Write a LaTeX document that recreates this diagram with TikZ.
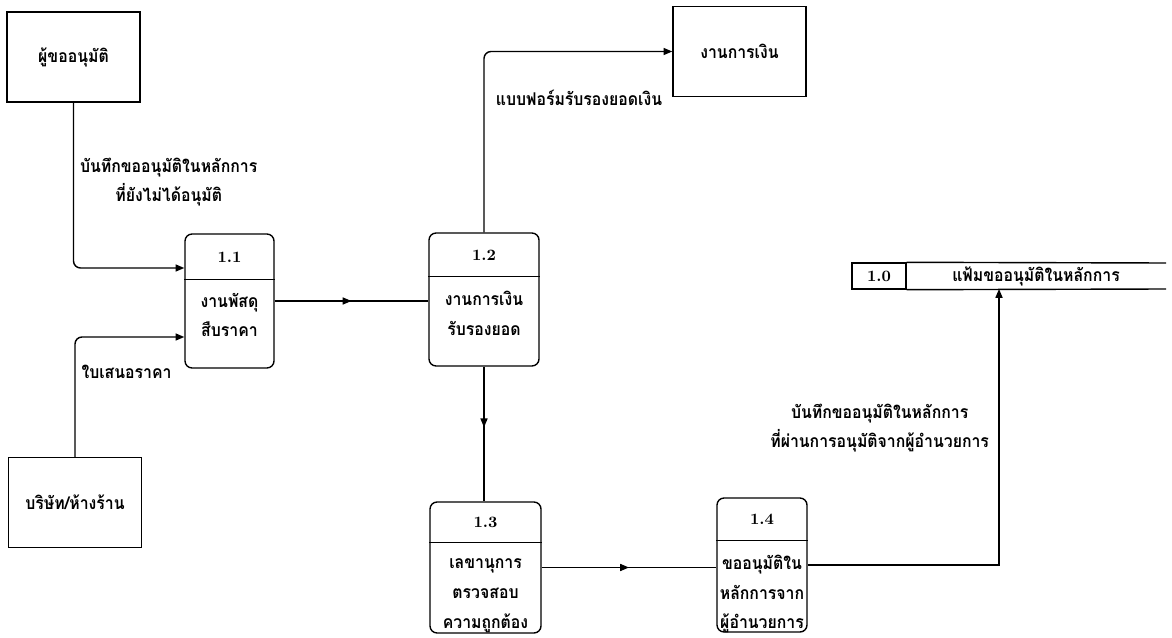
\documentclass[tikz,border=0pt]{standalone}
\usepackage{fontspec}
\newfontfamily\thaifont[Script=Thai, FakeStretch=0.9]{Loma}
\usetikzlibrary{arrows.meta,decorations.markings}
\tikzset{
  ent/.style={draw, thick, minimum width=2.66cm, minimum height=1.8cm, font=\thaifont\bfseries},
  proc/.style={draw, thick, rounded corners=4pt, minimum height=2.66cm},
  num/.style={font=\bfseries\small},
  ptext/.style={font=\thaifont\bfseries\fontsize{10}{17}\selectfont, align=center, inner sep=0pt},
  lbl/.style={font=\thaifont\bfseries\fontsize{10}{16}\selectfont, align=center},
  flow/.style={thick, -{Triangle[length=5pt,width=4pt]}},
  midflow/.style={thick, postaction={decorate}, decoration={markings,
    mark=at position #1 with {\arrow{Triangle[length=5pt,width=4pt]}}}},
  midflow/.default=0.5
}
\begin{document}
\begin{tikzpicture}[x=0.02cm, y=-0.02cm]
\useasboundingbox (0,0) rectangle (1172,638);
\node[ent] (E_1) at (73.5,57) {ผู้ขออนุมัติ};
\node[ent] (E_2) at (75,502.5) {บริษัท/ห้างร้าน};
\node[ent] (E_3) at (739.5,51.5) {งานการเงิน};
\node[proc, minimum width=1.78cm, minimum height=2.68cm] (P_1_1) at (229.5,301) {};
\draw[thick] ([yshift=-0.92cm]P_1_1.north west) -- ([yshift=-0.92cm]P_1_1.north east);
\node[num] (N_1_1) at (229.5,257) {1.1};
\node[ptext] (T_1_1) at (229.5,315) {งานพัสดุ\\สืบราคา};
\node[proc, minimum width=2.2cm] (P_1_2) at (484,299.5) {};
\draw[thick] ([yshift=-0.88cm]P_1_2.north west) -- ([yshift=-0.88cm]P_1_2.north east);
\node[num] (N_1_2) at (484,255) {1.2};
\node[ptext] (T_1_2) at (484,313) {งานการเงิน\\รับรองยอด};
\node[proc, minimum width=2.22cm, minimum height=2.62cm] (P_1_3) at (485.5,567.5) {};
\draw[thick] ([yshift=-0.82cm]P_1_3.north west) -- ([yshift=-0.82cm]P_1_3.north east);
\node[num] (N_1_3) at (485.5,522) {1.3};
\node[ptext] (T_1_3) at (485.5,596) {เลขานุการ\\ตรวจสอบ\\ความถูกต้อง};
\node[proc, minimum width=1.8cm, minimum height=2.68cm] (P_1_4) at (762,565) {};
\draw[thick] ([yshift=-0.86cm]P_1_4.north west) -- ([yshift=-0.86cm]P_1_4.north east);
\node[num] (N_1_4) at (762,519) {1.4};
\node[ptext] (T_1_4) at (762,594) {ขออนุมัติใน\\หลักการจาก\\ผู้อำนวยการ};
\node[draw, thick, num, minimum width=1.08cm, minimum height=0.52cm] (D_1_0) at (879,276) {1.0};
\node[lbl] (D_txt) at (1036,276) {แฟ้มขออนุมัติในหลักการ};
\draw[thick] (D_1_0.north east) -- (1166,263);
\draw[thick] (D_1_0.south east) -- (1166,289);
\coordinate (D_in) at (999,289);
\draw[flow, rounded corners=4pt] (E_1.south) |- ([yshift=0.66cm]P_1_1.west) node[pos=0.24, right, lbl] {บันทึกขออนุมัติในหลักการ\\ที่ยังไม่ได้อนุมัติ};
\draw[flow, rounded corners=4pt] (E_2.north) |- ([yshift=-0.72cm]P_1_1.west) node[pos=0.355, right, lbl] {ใบเสนอราคา};
\draw[midflow] (P_1_1.east) -- (P_1_1.east -| P_1_2.west);
\draw[flow, rounded corners=4pt] (P_1_2.north) |- (E_3.west) node[pos=0.373, right, lbl, xshift=3pt] {แบบฟอร์มรับรองยอดเงิน};
\draw[midflow=0.45] (P_1_2.south) -- (P_1_2.south |- P_1_3.north);
\draw[midflow] (P_1_3.east) -- (P_1_3.east -| P_1_4.west);
\draw[flow] (P_1_4.east) -| (D_in) node[pos=0.748, left, lbl, xshift=-2pt] {บันทึกขออนุมัติในหลักการ\\ที่ผ่านการอนุมัติจากผู้อำนวยการ};
\end{tikzpicture}
\end{document}
